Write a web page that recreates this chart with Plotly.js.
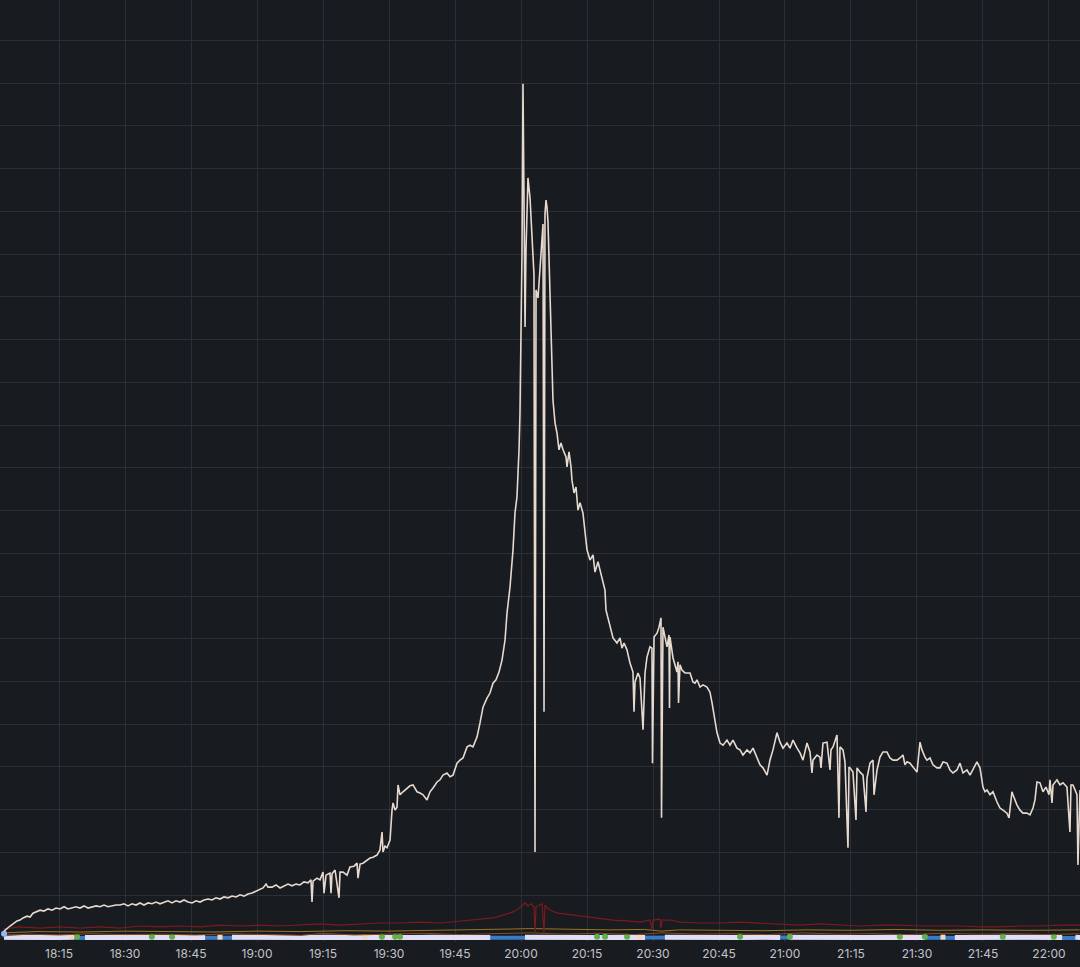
<!DOCTYPE html>
<html><head><meta charset="utf-8">
<script src="https://cdn.plot.ly/plotly-3.0.1.min.js"></script>
<style>html,body{margin:0;padding:0;background:#181b1f;overflow:hidden}#chart{width:1080px;height:967px}</style>
</head><body><div id="chart"></div>
<script>
// Times are minutes after 18:00; values in panel units (gridline = 10)
const mainMin = [
2.50,3.18,3.86,4.55,5.45,6.14,6.82,7.73,8.41,9.09,
9.77,10.68,11.59,12.50,13.41,14.32,15.23,16.14,17.05,17.95,
18.86,19.77,20.68,21.59,22.50,23.41,24.32,25.23,26.14,27.05,
27.95,28.86,29.77,30.68,31.59,32.50,33.41,34.32,35.23,36.14,
37.05,37.95,38.86,39.77,40.68,41.59,42.50,43.41,44.32,45.23,
46.14,47.05,47.95,48.86,49.77,50.68,51.59,52.50,53.41,54.32,
55.23,56.14,57.05,57.95,58.86,59.77,60.68,61.36,62.05,62.50,
63.41,64.32,65.23,66.14,67.05,67.95,68.86,69.77,70.68,71.59,
72.27,72.50,72.73,73.64,74.32,75.00,75.23,75.68,76.59,76.82,
77.05,77.73,78.64,78.86,79.55,80.45,81.14,82.05,82.73,82.95,
83.41,84.09,85.00,85.68,86.36,87.27,87.95,88.41,88.64,89.09,
89.55,90.23,90.68,90.91,91.36,91.82,92.05,92.50,93.18,94.09,
94.77,95.45,96.36,97.05,97.73,98.64,99.32,100.00,100.91,101.59,
102.27,103.18,103.86,104.55,105.45,106.14,106.82,107.73,108.41,109.09,
110.00,110.68,111.36,112.27,112.95,113.64,114.32,115.00,115.68,116.36,
116.82,117.50,118.18,118.64,119.09,119.55,119.77,120.23,120.45,120.68,
120.91,121.14,121.59,122.05,122.50,122.95,123.18,123.41,123.86,124.32,
124.77,125.00,125.23,125.45,125.68,125.91,126.14,126.59,127.05,127.27,
127.73,128.18,128.64,129.09,129.55,130.23,130.45,130.91,131.36,131.59,
132.05,132.50,132.95,133.41,134.09,134.55,135.00,135.68,136.36,136.82,
137.50,137.95,138.64,139.09,139.32,140.23,140.91,141.82,142.50,142.95,
143.41,144.09,144.77,145.45,145.68,145.91,146.59,147.05,147.73,148.18,
148.64,149.32,149.77,149.89,150.23,150.91,151.36,151.82,151.93,152.27,
152.73,153.18,153.64,153.75,153.86,154.55,155.45,155.68,155.80,156.14,
156.59,157.27,158.41,159.09,159.55,160.00,160.68,161.36,162.27,162.95,
163.41,164.09,164.55,165.23,165.91,166.82,167.50,168.18,169.09,169.77,
170.45,171.36,172.05,172.73,173.64,174.32,175.00,175.91,176.59,177.27,
178.18,178.86,179.55,180.45,181.14,181.82,182.73,183.41,184.09,185.00,
185.68,186.14,186.36,187.27,187.95,188.18,188.64,189.55,190.23,190.45,
190.91,191.82,192.27,192.50,193.18,193.64,194.32,194.55,194.77,195.45,
196.14,196.36,197.05,197.73,198.41,198.64,199.32,200.00,200.23,200.91,
201.59,202.27,203.18,203.86,204.55,205.45,206.14,206.82,207.27,207.73,
208.41,209.09,210.00,210.68,211.14,211.82,212.27,212.95,213.64,214.55,
215.23,215.91,216.82,217.50,218.18,219.09,219.77,220.45,221.36,222.05,
222.73,223.64,224.32,225.00,225.45,225.91,226.59,227.27,228.18,228.86,
229.55,230.45,230.91,231.59,231.82,232.73,233.41,234.09,235.00,235.68,
236.36,236.82,237.27,237.95,238.64,239.32,240.00,240.23,240.68,240.91,
241.82,242.50,243.18,244.09,244.77,245.00,245.45,246.36,246.59,247.05];
const mainVal = [
1.6,2.3,2.8,3.3,4.0,4.2,4.7,5.1,4.9,5.8,
6.1,6.5,6.3,6.8,6.5,7.0,6.8,7.3,6.8,7.0,
7.3,7.0,7.5,7.0,7.3,7.5,7.3,7.7,7.3,7.5,
7.7,7.7,8.0,7.5,8.0,7.7,8.2,7.7,8.2,8.0,
8.4,8.0,8.4,8.7,8.2,8.7,8.4,8.9,8.4,8.2,
8.7,8.4,8.9,9.1,8.9,9.4,9.1,9.6,9.4,9.8,
9.6,10.1,9.8,10.3,10.5,11.0,11.5,11.7,12.6,11.9,
11.9,12.4,11.7,12.2,12.6,12.2,12.6,12.4,13.1,12.9,
13.6,8.4,13.3,14.0,13.6,15.4,10.5,14.7,15.2,10.5,
15.0,15.9,9.4,15.4,15.4,14.7,16.6,16.8,17.5,14.0,
17.3,17.5,18.2,18.7,18.9,19.4,20.6,24.8,20.1,21.5,
21.1,22.9,29.9,31.6,29.9,30.6,35.8,33.5,34.2,35.1,
35.6,35.8,34.2,33.9,33.5,32.3,34.2,35.1,36.5,37.0,
38.1,38.6,37.7,38.1,40.9,41.6,42.1,44.7,45.1,44.7,
47.0,50.3,54.0,56.1,57.3,59.6,60.4,62.2,65.0,69.7,
76.0,82.1,90.8,99.4,103.2,114.2,122.8,160.9,199.8,172.6,
142.9,160.9,177.8,173.1,164.4,155.1,20.1,151.6,149.7,156.7,
165.6,167.0,52.9,169.4,172.6,170.8,167.5,149.2,135.2,125.8,
120.5,118.1,114.2,115.8,114.2,112.5,110.2,113.7,110.2,107.1,
104.1,105.5,100.1,101.8,99.4,94.7,90.8,88.4,89.6,85.6,
88.0,86.1,83.0,81.4,76.7,72.7,70.2,69.0,70.2,67.8,
69.0,67.4,64.3,62.2,52.9,59.9,62.0,60.8,48.7,62.0,
65.7,68.1,67.8,40.9,70.4,71.3,72.7,74.9,28.1,72.7,
70.2,68.1,70.9,53.8,70.4,65.5,62.2,64.6,55.0,63.9,
62.7,62.0,62.0,59.9,59.6,60.4,58.7,59.2,58.7,57.5,
55.0,51.0,48.0,45.6,45.1,46.3,45.1,46.3,44.4,44.0,
42.8,44.0,43.3,44.4,42.1,40.5,39.8,38.1,41.6,44.0,
48.0,45.8,44.4,45.6,44.4,46.3,44.4,43.3,41.6,45.6,
43.5,38.6,41.6,42.8,42.3,39.8,45.6,45.8,39.3,44.0,
44.7,47.5,28.1,44.7,44.0,41.2,21.1,40.0,39.8,38.8,
27.6,39.8,38.8,38.1,29.5,37.4,40.9,41.6,33.5,39.3,
42.3,43.5,43.5,42.1,41.6,41.6,42.1,42.8,40.5,41.2,
40.9,40.0,38.8,45.8,44.0,42.3,41.6,42.1,40.5,39.8,
39.8,41.2,40.9,39.3,38.6,39.3,40.9,38.6,39.3,38.1,
39.3,41.2,39.8,35.3,34.2,34.6,33.5,34.2,31.8,30.4,
29.9,29.2,28.1,34.2,33.5,31.1,29.9,29.2,29.2,28.8,
30.4,32.3,36.5,36.3,34.2,35.3,33.5,37.0,31.6,35.8,
37.0,35.8,36.3,35.3,24.8,35.8,35.8,33.5,17.1,34.6];

const redMin = [2.27,6.14,10.68,15.23,19.77,24.32,28.86,33.41,37.95,42.50,
47.05,51.59,56.14,60.68,65.23,69.77,74.32,78.86,83.41,87.95,
92.50,97.05,101.59,106.14,110.68,113.64,115.23,116.82,118.18,119.32,
120.23,120.91,121.59,122.27,122.95,123.18,123.41,124.09,124.77,125.23,
125.45,126.14,127.05,128.41,130.00,131.82,135.00,137.95,140.91,144.09,
147.05,149.32,149.77,150.00,151.59,151.82,152.05,153.86,156.14,160.68,
165.23,169.77,174.32,178.86,183.41,187.95,192.50,197.05,201.59,206.14,
210.68,215.23,219.77,224.32,228.86,233.41,237.95,242.50,247.05];
const redVal = [2.1,2.6,2.3,2.6,2.3,2.6,2.3,2.8,2.6,2.8,
2.6,3.0,2.8,3.0,2.8,3.0,3.3,3.0,3.3,3.5,
3.5,3.7,3.5,4.0,4.4,4.7,5.1,5.6,6.1,6.8,
7.5,8.2,7.5,8.0,7.3,1.2,7.3,7.7,8.0,1.2,
7.7,6.8,6.3,5.8,5.6,5.4,4.9,4.7,4.2,4.0,
3.7,4.2,2.1,4.2,4.4,2.3,4.2,4.2,3.7,3.5,
3.5,3.7,3.5,3.3,3.0,3.3,3.0,2.8,3.0,3.0,
2.8,2.8,2.8,2.6,2.6,2.8,2.8,3.0,3.0];

const orangeMin = [2.3,10,20,30,40,50,60,70,80,90,100,110,118,122,126,132,140,148,152,156,165,175,185,195,205,215,225,235,247];
const orangeVal = [1.2,1.5,1.4,1.6,1.5,1.4,1.6,1.5,1.7,1.6,1.8,1.9,2.1,2.2,2.1,2.0,1.9,2.0,1.6,1.9,1.8,1.7,1.9,1.8,2.0,1.8,1.9,1.8,1.9];

const brownMin = [2.3,8,15,22,30,38,46,54,62,70,75,82,90,98,106,114,122,130,138,146,152,160,168,176,184,192,200,208,216,224,232,240,247];
const brownVal = [0.5,0.9,0.7,1.0,0.8,0.9,0.7,1.0,0.8,0.6,1.1,0.7,0.9,1.1,0.8,1.0,1.2,0.9,1.1,0.8,1.2,0.9,1.0,0.8,1.2,0.9,1.0,0.8,1.1,0.9,1.0,0.8,1.0];

const lavMin = [2.5,6,10,14,17.5,18.6,20.9,25,30,35,40,45,48.2,49,54.3,60,65,70,75,81,88,95,100,105,110,113,114,120.9,126,132,138,143,148.2,149,152.7,158,164,170,175,178.9,180,181.1,186,192,198,204,211.8,213,218.6,224,230,236,242,243,244,246,247.1];
const lavVal = [0.2,0.1,0.2,0.1,0.2,null,0.1,0.2,0.1,0.2,0.1,0.2,0.1,null,0.2,0.1,0.2,0.1,0.2,0.1,0.2,0.1,0.2,0.1,0.2,0.1,null,0.2,0.1,0.2,0.1,0.2,0.1,null,0.2,0.1,0.2,0.1,0.2,0.1,null,0.2,0.1,0.2,0.1,0.2,0.1,null,0.1,0.2,0.1,0.2,0.1,0.1,null,0.2,0.1];

const blueMin = [2.5,60,120,180,247.1];
const blueVal = [0.0,0.1,0.0,0.1,0.0];

const greenMin = [19.1,36.1,40.7,88.4,91.4,92.5,137.3,139.1,144.1,169.8,181.1,206.1,211.8,229.5,241.1];
const greenVal = [0.3,0.3,0.3,0.3,0.3,0.3,0.3,0.3,0.3,0.3,0.3,0.3,0.3,0.3,0.3];

const peachMin = [17.9,51.6,84.5,147.0,215.9];
const peachVal = [0.2,0.2,0.2,0.2,0.2];

const startMin = [2.5];
const startVal = [1.0];

const xStart = 1.59, xEnd = 247.05;

function toTime(m){
  const s = Math.round(m*60);
  const h = 18 + Math.floor(s/3600);
  const mm = Math.floor((s%3600)/60);
  const ss = s%60;
  const p = n => String(n).padStart(2,'0');
  return '2024-01-01 ' + p(h)+':'+p(mm)+':'+p(ss);
}
const T = a => a.map(toTime);

const traces = [
  {x:T(blueMin), y:blueVal, mode:'lines', line:{color:'#3a7bc8', width:4}},
  {x:T(lavMin), y:lavVal, mode:'lines', connectgaps:false, line:{color:'#e2def5', width:5}},
  {x:T(greenMin), y:greenVal, mode:'markers', marker:{color:'#5fb150', size:6}},
  {x:T(peachMin), y:peachVal, mode:'markers', marker:{color:'#f3d6c0', size:5, symbol:'square'}},
  {x:T(brownMin), y:brownVal, mode:'lines', line:{color:'#8a4a22', width:1}},
  {x:T(orangeMin), y:orangeVal, mode:'lines', line:{color:'#9a7420', width:1}},
  {x:T(redMin), y:redVal, mode:'lines', line:{color:'#7a1a1e', width:1.2}},
  {x:T(startMin), y:startVal, mode:'markers', marker:{color:'#8ab8ff', size:6}},
  {x:T(mainMin), y:mainVal, mode:'lines', line:{color:'#e6d9cf', width:1.6}}
];

const layout = {
  width:1080, height:967,
  margin:{l:0, r:0, t:0, b:25, pad:0},
  paper_bgcolor:'#181b1f', plot_bgcolor:'#181b1f',
  showlegend:false,
  hovermode:false,
  font:{family:'Inter, "Open Sans", sans-serif', size:12, color:'#c2c3cb'},
  xaxis:{
    type:'date',
    range:[toTime(xStart), toTime(xEnd)],
    tick0:'2024-01-01 18:15:00', dtick:900000,
    tickformat:'%H:%M',
    showgrid:true, gridcolor:'#2c2f36', gridwidth:1,
    zeroline:false, showline:false,
    ticks:'outside', ticklen:1, tickcolor:'rgba(0,0,0,0)',
    tickfont:{family:'Inter, "Open Sans", sans-serif', size:12, color:'#c2c3cb'}
  },
  yaxis:{
    range:[-0.94, 219.42],
    tick0:0, dtick:10,
    showgrid:true, gridcolor:'#2c2f36', gridwidth:1,
    zeroline:false, showline:false, showticklabels:false, ticks:''
  }
};

Plotly.newPlot('chart', traces, layout, {displayModeBar:false, staticPlot:true});
</script>
</body></html>
